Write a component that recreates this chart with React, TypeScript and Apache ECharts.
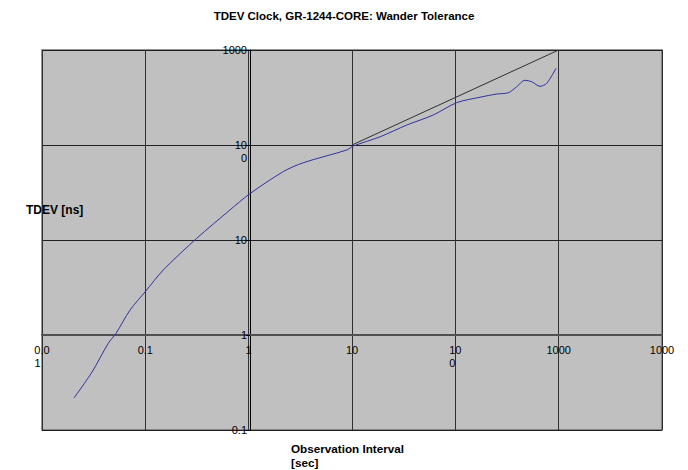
import React, { useEffect, useRef } from "react";
import * as echarts from "echarts";

const titleText = "TDEV Clock, GR-1244-CORE: Wander Tolerance";
const yName = "TDEV [ns]";
const xNameLines = ["Observation Interval", "[sec]"];

// tick labels as shown in the reference (exponent -> text)
const xTickExp = [-2, -1, 0, 1, 2, 3, 4];
const xTickLabels = ["{a|0.0}\n{a|1}{p|}", "0.1", "1", "10", "{a|10}\n{a|0}{q|}", "1000", "1000"];
const yTickExp = [-1, 0, 1, 2, 3];
const yTickLabels = ["0.1", "1", "10", "{e|}\n{a|10}\n{q|}{a|0}", "1000"];

// blue measured TDEV curve
const tauSec = [0.0204, 0.0305, 0.0438, 0.052, 0.0711, 0.1, 0.149, 0.314, 0.659, 1.01, 2.16, 3.38, 8.89, 10.3, 18.7, 33.8, 61.2, 103, 173, 251, 326, 393, 472, 548, 659, 766, 942];
const tdevNs = [0.217, 0.408, 0.818, 1.04, 1.83, 2.86, 4.83, 10.4, 20.7, 30.3, 52.4, 65.1, 88.6, 97.6, 122, 162, 207, 279, 318, 344, 355, 411, 480, 464, 415, 446, 642];

// black tolerance mask line
const maskTau = [10, 1000];
const maskNs = [100, 1000];

export default function App() {
  const ref = useRef<HTMLDivElement>(null);
  useEffect(() => {
    document.body.style.margin = "0";
    const chart = echarts.init(ref.current!, null, { renderer: "svg" });
    const font = "Liberation Sans, Arial, sans-serif";
    const xMap: Record<number, string> = {};
    xTickExp.forEach((e, i) => (xMap[e] = xTickLabels[i]));
    const yMap: Record<number, string> = {};
    yTickExp.forEach((e, i) => (yMap[e] = yTickLabels[i]));
    chart.setOption({
      animation: false,
      backgroundColor: "#ffffff",
      title: {
        text: titleText,
        left: "center",
        top: 5,
        textStyle: { fontFamily: font, fontSize: 11.5, fontWeight: "bold", color: "#000" },
      },
      grid: {
        left: 42,
        top: 50,
        width: 620,
        height: 380,
        show: true,
        backgroundColor: "#c0c0c0",
        borderColor: "#707070",
        borderWidth: 1.5,
      },
      xAxis: {
        type: "log",
        logBase: 10,
        min: 0.01,
        max: 10000,
        position: "bottom",
        offset: -95,
        axisLine: { show: true, lineStyle: { color: "#505050", width: 2 } },
        axisTick: { show: false },
        axisLabel: {
          margin: 8,
          fontFamily: font,
          fontSize: 11,
          color: "#000",
          lineHeight: 13,
          formatter: (v: number) => xMap[Math.round(Math.log10(v))] ?? "",
          rich: {
            a: { fontFamily: font, fontSize: 11, color: "#000", lineHeight: 13 },
            p: { width: 9 },
            q: { width: 6 },
          },
        },
        splitLine: { show: true, lineStyle: { color: "#303030", width: 1 } },
      },
      yAxis: {
        type: "log",
        logBase: 10,
        min: 0.1,
        max: 1000,
        position: "left",
        offset: -208,
        axisLine: { show: true, lineStyle: { color: "#000", width: 1 } },
        axisTick: { show: true, length: 4, lineStyle: { color: "#000" } },
        axisLabel: {
          margin: 3,
          fontFamily: font,
          fontSize: 11,
          color: "#000",
          lineHeight: 13,
          formatter: (v: number) => yMap[Math.round(Math.log10(v))] ?? "",
          rich: {
            a: { fontFamily: font, fontSize: 11, color: "#000", lineHeight: 13 },
            e: { lineHeight: 13, height: 13 },
            q: { width: 6 },
          },
        },
        splitLine: { show: true, lineStyle: { color: "#202020", width: 1 } },
      },
      graphic: [
        {
          type: "text",
          left: 26,
          top: 204,
          style: { text: yName, fontFamily: font, fontSize: 12, fontWeight: "bold", fill: "#000" },
        },
        {
          type: "text",
          left: 291,
          top: 441,
          style: {
            text: xNameLines.join("\n"),
            fontFamily: font,
            fontSize: 11.7,
            lineHeight: 14,
            fontWeight: "bold",
            fill: "#000",
          },
        },
      ],
      series: [
        {
          type: "line",
          data: maskTau.map((t, i) => [t, maskNs[i]]),
          showSymbol: false,
          lineStyle: { color: "#303030", width: 1 },
          z: 3,
        },
        {
          type: "line",
          data: tauSec.map((t, i) => [t, tdevNs[i]]),
          showSymbol: false,
          smooth: 0.3,
          lineStyle: { color: "#3030a0", width: 1 },
          z: 4,
        },
      ],
    });
    return () => chart.dispose();
  }, []);
  return <div ref={ref} style={{ width: 688, height: 470 }} />;
}
